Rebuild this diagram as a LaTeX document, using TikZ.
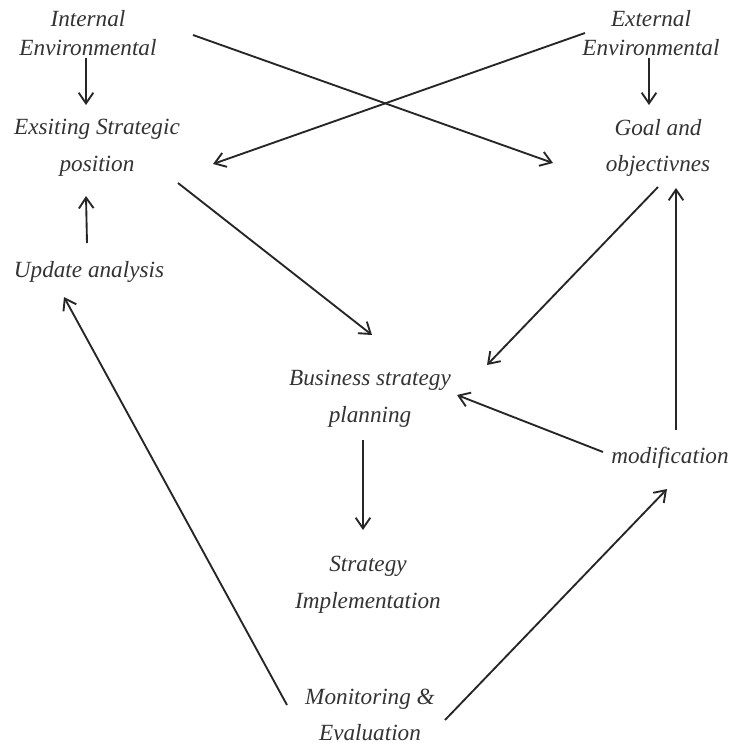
\documentclass[tikz,border=0pt]{standalone}
\usepackage{fontspec}
\setmainfont{Liberation Serif}
\usetikzlibrary{arrows.meta}
\begin{document}
\begin{tikzpicture}[x=0.75pt,y=-0.75pt,
  lbl/.style={font=\fontsize{17.4}{21.75}\selectfont\itshape, align=center, inner sep=0pt, text=black!80},
  lblwide/.style={lbl, font=\fontsize{17.4}{27.6}\selectfont\itshape},
  arr/.style={line width=1.4pt, draw=black!85, -{Straight Barb[length=8pt,width=11pt,line width=1.4pt]}}]
  \useasboundingbox (0,0) rectangle (730,747);

  % labels
  \node[lbl]     (int)  at (88,33)   {Internal\\Environmental};
  \node[lbl]     (ext)  at (651,33)  {External\\Environmental};
  \node[lblwide] (exs)  at (97,148)  {Exsiting Strategic\\position};
  \node[lblwide] (goal) at (658,148) {Goal and\\objectivnes};
  \node[lbl]     (upd)  at (89,272)  {Update analysis};
  \node[lblwide] (bus)  at (370,399) {Business strategy\\planning};
  \node[lbl]     (mod)  at (670,458) {modification};
  \node[lblwide] (imp)  at (368,585) {Strategy\\Implementation};
  \node[lblwide] (mon)  at (370,715) {Monitoring \&\\Evaluation};

  % connectors
  \draw[arr] ([shift={(-2,25)}]int.center)   -- ([shift={(-11,-43)}]exs.center);
  \draw[arr] ([shift={(-2,25)}]ext.center)   -- ([shift={(-9,-43)}]goal.center);
  \draw[arr] ([shift={(105,2)}]int.center)   -- ([shift={(-105,15)}]goal.center);
  \draw[arr] ([shift={(-66,0)}]ext.center)   -- ([shift={(116,16)}]exs.center);
  \draw[arr] ([shift={(81,35)}]exs.center)   -- ([shift={(2,-64)}]bus.center);
  \draw[arr] ([shift={(0,39)}]goal.center)   -- ([shift={(117,-34)}]bus.center);
  \draw[arr] ([shift={(6,-28)}]mod.center)   -- ([shift={(18,40)}]goal.center);
  \draw[arr] ([shift={(-67,-6)}]mod.center)  -- ([shift={(87,-4)}]bus.center);
  \draw[arr] ([shift={(-7,41)}]bus.center)   -- ([shift={(-5,-55)}]imp.center);
  \draw[arr] ([shift={(-2,-29)}]upd.center)  -- ([shift={(-11,48)}]exs.center);
  \draw[arr] ([shift={(-83,-10)}]mon.center) -- ([shift={(-25,25)}]upd.center);
  \draw[arr] ([shift={(75,5)}]mon.center)    -- ([shift={(-3,31)}]mod.center);
\end{tikzpicture}
\end{document}
